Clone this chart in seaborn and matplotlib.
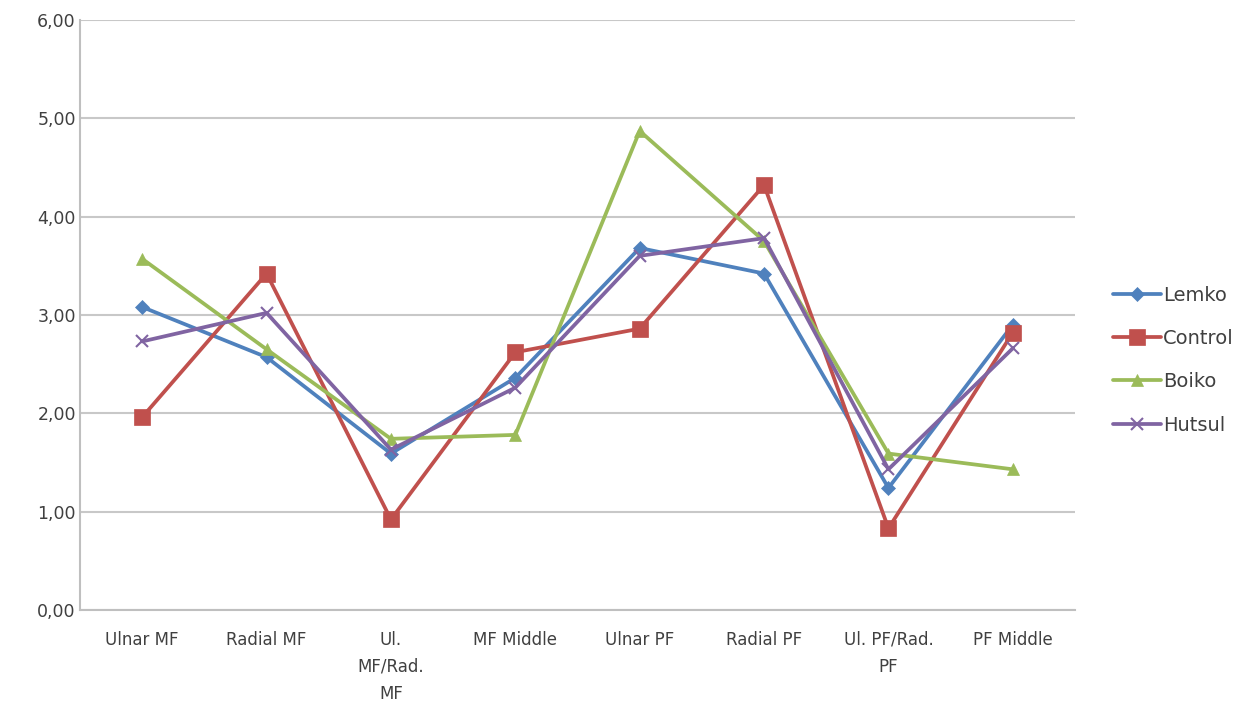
import matplotlib
matplotlib.use("Agg")
import matplotlib.pyplot as plt
import seaborn as sns
import pandas as pd
from matplotlib.ticker import FuncFormatter, FixedLocator

categories = ["Ulnar MF", "Radial MF", "Ul.\nMF/Rad.\nMF", "MF Middle",
              "Ulnar PF", "Radial PF", "Ul. PF/Rad.\nPF", "PF Middle"]
lemko = [3.08, 2.57, 1.59, 2.36, 3.68, 3.42, 1.24, 2.90]
control = [1.96, 3.42, 0.92, 2.62, 2.86, 4.32, 0.83, 2.82]
boiko = [3.57, 2.65, 1.74, 1.78, 4.87, 3.75, 1.59, 1.43]
hutsul = [2.73, 3.02, 1.63, 2.26, 3.60, 3.78, 1.43, 2.66]

groups = ["Lemko", "Control", "Boiko", "Hutsul"]
colors = ["#4F81BD", "#C0504D", "#9BBB59", "#8064A2"]
markers = ["D", "s", "^", "x"]
msizes = [7, 11, 9, 9]

rows = []
for g, vals in zip(groups, [lemko, control, boiko, hutsul]):
    for i, v in enumerate(vals):
        rows.append({"pos": i, "value": v, "group": g})
df = pd.DataFrame(rows)

sns.set_style("white")
plt.rcParams["font.family"] = ["DejaVu Sans"]

fig = plt.figure(figsize=(12.5, 7.06), dpi=100)
ax = fig.add_axes([0.064, 0.136, 0.796, 0.836])

for g, c, m, ms in zip(groups, colors, markers, msizes):
    sub = df[df["group"] == g]
    sns.lineplot(data=sub, x="pos", y="value", ax=ax, color=c, marker=m,
                 markersize=ms, linewidth=2.7, label=g,
                 markeredgecolor=c, markeredgewidth=1.5 if m == "x" else 0.5)

ax.set_xlim(-0.5, 7.5)
ax.set_ylim(0, 6)
ax.set_yticks([0, 1, 2, 3, 4, 5, 6])
ax.yaxis.set_major_formatter(FuncFormatter(lambda v, p: f"{v:.2f}".replace(".", ",")))
ax.set_xticks(range(len(categories)))
ax.set_xticklabels(categories, linespacing=1.65)
ax.xaxis.set_minor_locator(FixedLocator([i - 0.5 for i in range(len(categories) + 1)]))
ax.tick_params(axis="x", which="major", length=0, pad=15, labelsize=12, colors="#404040")
ax.tick_params(axis="x", which="minor", length=5, color="#BFBFBF", width=1.5)
ax.tick_params(axis="y", length=0, pad=3, labelsize=12.5, colors="#404040")
ax.grid(axis="y", color="#C8C8C8", linewidth=1.5)
ax.set_axisbelow(True)
ax.set_xlabel("")
ax.set_ylabel("")
for s in ["top", "right"]:
    ax.spines[s].set_visible(False)
for s in ["left", "bottom"]:
    ax.spines[s].set_color("#BFBFBF")
    ax.spines[s].set_linewidth(1.5)

h, l = ax.get_legend_handles_labels()
ax.legend_.remove()
fig.legend(h, l, loc="center left", bbox_to_anchor=(0.876, 0.49), frameon=False,
           fontsize=14, handlelength=2.5, labelspacing=1.25, handletextpad=0.1,
           labelcolor="#404040")

fig.savefig("out.png", dpi=100)
